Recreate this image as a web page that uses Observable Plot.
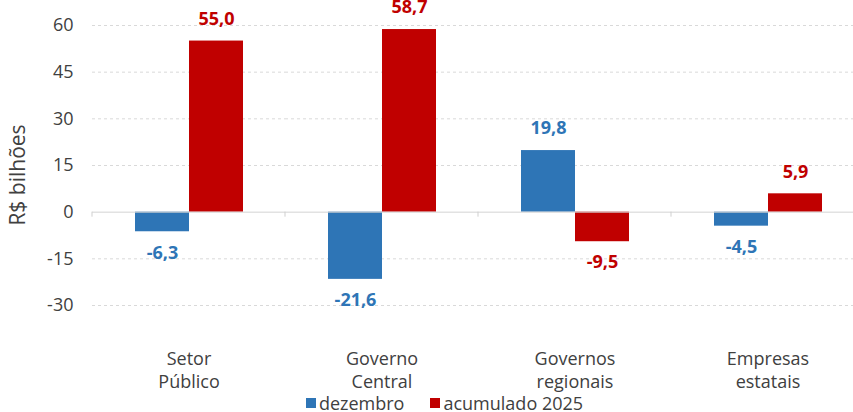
<!DOCTYPE html>
<html><head><meta charset="utf-8">
<script src="https://cdn.jsdelivr.net/npm/d3@7"></script>
<script src="https://cdn.jsdelivr.net/npm/@observablehq/plot@0.6"></script>
<style>
html,body{margin:0;padding:0;background:#fff;overflow:hidden;}
body{width:853px;height:412px;font-family:"Open Sans",sans-serif;position:relative;}
#ylabel{position:absolute;left:17px;top:175px;transform:translate(-50%,-50%) rotate(-90deg);font-size:21px;color:#404040;white-space:nowrap;line-height:1;}
#legend{display:flex;justify-content:center;align-items:center;height:24px;line-height:24px;font-size:18px;color:#404040;margin-left:36px;}
.item{display:flex;align-items:center;margin:0 13px;}
.sw{display:inline-block;width:10px;height:10px;margin-right:3px;}
</style></head><body>
<div id="chart"></div>
<div id="legend"></div>
<div id="ylabel"></div>
<script>
const categories = ["Setor Público", "Governo Central", "Governos regionais", "Empresas estatais"];
const categoryLabels = ["Setor\nPúblico", "Governo\nCentral", "Governos\nregionais", "Empresas\nestatais"];
const series = ["dezembro", "acumulado 2025"];
const dezembro = [-6.3, -21.6, 19.8, -4.5];
const acumulado2025 = [55.0, 58.7, -9.5, 5.9];
const yTicks = [-30, -15, 0, 15, 30, 45, 60];
const yLabel = "R$ bilhões";
const colors = ["#2E75B6", "#C00000"];

const data = categories.flatMap((c, i) => [
  {category: c, series: series[0], value: dezembro[i]},
  {category: c, series: series[1], value: acumulado2025[i]}
]);
const fmt = v => v.toFixed(1).replace(".", ",");
const labelOf = new Map(categories.map((c, i) => [c, categoryLabels[i]]));

function zeroTicks(index, scales, values, dimensions) {
  const g = d3.create("svg:g");
  const y0 = scales.y(0);
  const x = dimensions.marginLeft;
  g.append("line").attr("x1", x).attr("x2", x).attr("y1", y0).attr("y2", y0 + 5)
    .attr("stroke", "#cfcfcf").attr("stroke-width", 1);
  return g.node();
}

const chart = Plot.plot({
  width: 853,
  height: 391,
  marginTop: 25,
  marginBottom: 86,
  marginLeft: 92,
  marginRight: -11,
  style: {fontFamily: "Open Sans", fontSize: "18px", color: "#404040", background: "#fff", overflow: "visible"},
  fx: {domain: categories, padding: 0},
  x: {domain: series, paddingInner: 0, paddingOuter: 0.77, axis: null},
  y: {domain: [-30, 60], axis: null},
  color: {domain: series, range: colors},
  marks: [
    Plot.ruleY(yTicks.filter(d => d !== 0), {stroke: "#d9d9d9", strokeDasharray: "3,3"}),
    Plot.barY(data, {fx: "category", x: "series", y: "value", fill: "series"}),
    Plot.ruleY([0], {stroke: "#d4d4d4"}),
    zeroTicks,
    Plot.text(data.filter(d => d.value >= 0), {fx: "category", x: "series", y: "value", text: d => fmt(d.value), fill: "series", dy: -22, fontSize: 18, fontWeight: "bold"}),
    Plot.text(data.filter(d => d.value < 0), {fx: "category", x: "series", y: "value", text: d => fmt(d.value), fill: "series", dy: 21, fontSize: 18, fontWeight: "bold"}),
    Plot.axisY({ticks: yTicks, tickFormat: d => String(d), tickSize: 0, tickPadding: 19, label: null, fontSize: 18}),
    Plot.axisFx({tickFormat: c => labelOf.get(c), tickSize: 0, tickPadding: 43, lineHeight: 1.28, fontSize: 18, label: null, anchor: "bottom"})
  ]
});
document.getElementById("chart").appendChild(chart);

document.getElementById("ylabel").textContent = yLabel;
const legend = document.getElementById("legend");
series.forEach((s, i) => {
  const item = document.createElement("div");
  item.className = "item";
  const sw = document.createElement("span");
  sw.className = "sw";
  sw.style.background = colors[i];
  item.appendChild(sw);
  item.appendChild(document.createTextNode(s));
  legend.appendChild(item);
});
</script>
</body></html>
